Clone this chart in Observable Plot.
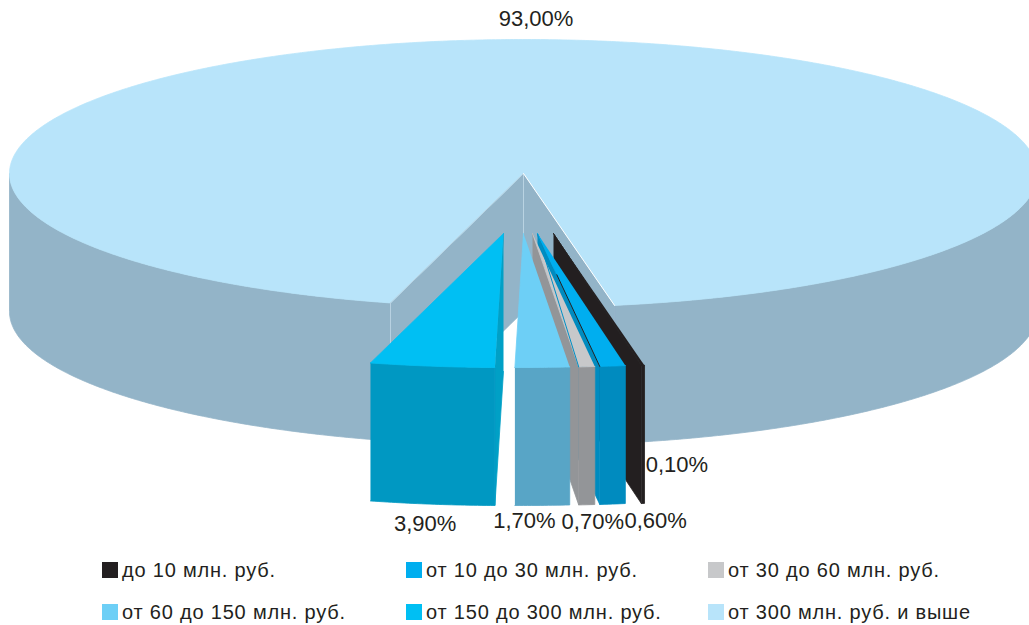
<!DOCTYPE html>
<html lang="ru">
<head>
<meta charset="utf-8">
<script src="https://cdn.jsdelivr.net/npm/d3@7"></script>
<script src="https://cdn.jsdelivr.net/npm/@observablehq/plot@0.6"></script>
<style>
  html, body { margin: 0; padding: 0; background: #fff; overflow: hidden; }
  #chart svg { display: block; }
  #legend { position: relative; height: 73px; width: 1029px; font: 20px "Liberation Sans", Arial, sans-serif; color: #231f20; }
  .item { position: absolute; white-space: nowrap; line-height: 16px; }
  .sw { position: absolute; left: 0; top: 0; width: 16px; height: 16px; }
  .tx { position: absolute; left: 20px; top: 0; letter-spacing: 0.8px; }
</style>
</head>
<body>
<div id="chart"></div>
<div id="legend"></div>
<script>
// ---- data ----
const categories = ["до 10 млн. руб.", "от 10 до 30 млн. руб.", "от 30 до 60 млн. руб.",
                    "от 60 до 150 млн. руб.", "от 150 до 300 млн. руб.", "от 300 млн. руб. и выше"];
const values = [0.1, 0.6, 0.7, 1.7, 3.9, 93.0];

// ---- style ----
const topColors   = ["#231f20", "#00aeef", "#c7c8ca", "#6dcff6", "#00bff3", "#b8e4fa"];
const wallColors  = ["#231f20", "#008bbf", "#939598", "#58a5c6", "#0098c2", "#93b4c8"];
const sideColors  = ["#231f20", "#008bbf", "#939598", "#58a5c6", "#00a0c6", "#93b4c8"];

// ---- pseudo-3D pie geometry (projection settings of the drawing) ----
const W = 1029, H = 552;
const cx = 523, cy = 173, rx = 514, ry = 134, depth = 138;
const startAngle = 10.2;               // degrees clockwise from "towards the viewer"
const sweepNudge = [0, 0.2, -0.2, 0, 0, 0];   // percentage points, as the picture draws them
const explodeDx  = [30, 14, 9, 0, -20, 0];
const explodeDy  = [60, 60, 60, 60, 60, 0];
const labelDx = [34, 43, 6, -18, -7, -9];
const labelDy = [-39, 17, 17, 16, 20, -21];

const rad = Math.PI / 180;
const rim = (a, ox, oy, dz = 0) => ({x: cx + ox + rx * Math.sin(a * rad), y: cy + oy + ry * Math.cos(a * rad) + dz});
const arc = (a0, a1) => { // sampled angles
  const n = Math.max(2, Math.ceil(Math.abs(a1 - a0) / 0.5));
  return d3.range(n + 1).map(i => a0 + (a1 - a0) * i / n);
};

// Slices run anticlockwise from startAngle: each entry holds [hi, lo] in degrees.
let cursor = startAngle;
const slices = values.map((v, i) => {
  const hi = cursor, lo = cursor - (v + sweepNudge[i]) * 3.6;
  cursor = lo;
  return {i, hi, lo, ox: explodeDx[i], oy: explodeDy[i]};
});

const faces = [];
const face = (pts, fill) => faces.push(Plot.line(pts, {x: "x", y: "y", fill, stroke: fill, strokeWidth: 0.8}));
const edge = (pts, stroke, strokeWidth = 1) => faces.push(Plot.line(pts, {x: "x", y: "y", stroke, strokeWidth}));

function wallBand(s, a0, a1, color) {
  const as = arc(a0, a1);
  face([...as.map(a => rim(a, s.ox, s.oy)), ...as.slice().reverse().map(a => rim(a, s.ox, s.oy, depth))], color);
}
function radialWall(s, a, color) {
  const ax = {x: cx + s.ox, y: cy + s.oy};
  const r = rim(a, s.ox, s.oy), rb = rim(a, s.ox, s.oy, depth);
  face([ax, r, rb, {x: ax.x, y: ax.y + depth}], color);
}
function topFace(s, a0, a1, color) {
  face([{x: cx + s.ox, y: cy + s.oy}, ...arc(a0, a1).map(a => rim(a, s.ox, s.oy))], color);
}

// the big slice runs from its left cut (main.hi) round the back to its right cut (main.lo)
const main = slices[5];
const mainLeft = main.hi, mainRight = main.lo;
wallBand(main, mainLeft, -90, wallColors[5]);
wallBand(main, -270, mainRight, wallColors[5]);
radialWall(main, mainLeft, wallColors[5]);
radialWall(main, mainRight, wallColors[5]);
topFace(main, mainLeft, mainRight, topColors[5]);
edge([{x: cx, y: cy}, {x: cx, y: cy + depth}], "#b9d3e2", 1);
edge([rim(mainLeft, 0, 0), rim(mainLeft, 0, 0, depth)], "#b9d3e2", 1);
edge([{x: cx, y: cy}, rim(mainLeft, 0, 0)], "#b9d3e2", 1);
edge([{x: cx, y: cy}, rim(mainRight, 0, 0)], "#ffffff", 1);

// the pulled-out slices, from the right one to the left one
slices.slice(0, 5).forEach(s => {
  const c = s.i;
  if (s.lo > 0) radialWall(s, s.lo, sideColors[c]);
  if (s.hi < 0) radialWall(s, s.hi, sideColors[c]);
  wallBand(s, s.lo, s.hi, wallColors[c]);
  topFace(s, s.lo, s.hi, topColors[c]);
  if (c === 2) { // thin blue seam on the left edge of the grey top
    const a = {x: cx + s.ox, y: cy + s.oy}, b = rim(s.lo, s.ox, s.oy);
    edge([{x: a.x + 5, y: a.y + 1}, b], "#008fc5", 1);
  }
  if (c === 1) { // thin black seam on the left edge of the blue top
    const a = {x: cx + s.ox, y: cy + s.oy}, b = rim(s.lo, s.ox, s.oy);
    edge([{x: a.x + (b.x - a.x) * 0.31, y: a.y + (b.y - a.y) * 0.31}, b], "#231f20", 1);
  }
});

// data labels
const fmt = v => v.toFixed(2).replace(".", ",") + "%";
const labels = slices.map(s => {
  const mid = (s.hi + s.lo) / 2;
  const p = rim(mid, s.ox, s.oy, s.i === 5 ? 0 : depth);
  return {x: p.x + labelDx[s.i], y: p.y + labelDy[s.i], text: fmt(values[s.i])};
});

const chart = Plot.plot({
  width: W, height: H,
  margin: 0,
  x: {domain: [0, W], range: [0, W], axis: null},
  y: {domain: [0, H], range: [0, H], axis: null},
  style: {background: "transparent", overflow: "hidden"},
  marks: [
    ...faces,
    Plot.text(labels, {x: "x", y: "y", text: "text", fontSize: 22, fill: "#231f20",
                       fontFamily: "Liberation Sans, Arial, sans-serif"})
  ]
});
document.getElementById("chart").appendChild(chart);

// legend (HTML, below the SVG)
const colX = [102, 406, 708], rowY = [10, 52];
const legend = document.getElementById("legend");
categories.forEach((c, i) => {
  const el = document.createElement("div");
  el.className = "item";
  el.style.left = colX[i % 3] + "px";
  el.style.top = rowY[Math.floor(i / 3)] + "px";
  el.innerHTML = `<span class="sw" style="background:${topColors[i]}"></span><span class="tx">${c}</span>`;
  legend.appendChild(el);
});
</script>
</body>
</html>
